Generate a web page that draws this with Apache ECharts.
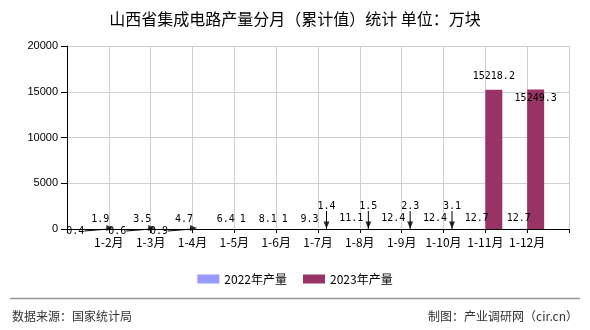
<!DOCTYPE html>
<html><head><meta charset="utf-8">
<script src="https://cdn.jsdelivr.net/npm/echarts@6/dist/echarts.min.js"></script>
<style>html,body{margin:0;padding:0;background:#fff}#c{width:590px;height:330px}</style>
</head><body><div id="c"></div>
<script>
// ---- data ----
const categories = ['1-2月','1-3月','1-4月','1-5月','1-6月','1-7月','1-8月','1-9月','1-10月','1-11月','1-12月'];
const values2022 = [1.9, 3.5, 4.7, 6.4, 8.1, 9.3, 11.1, 12.4, 12.4, 12.7, 12.7];
const values2023 = [0.4, 0.6, 0.9, 1, 1, 1.4, 1.5, 2.3, 3.1, 15218.2, 15249.3];
const seriesNames = ['2022年产量', '2023年产量'];
const yMin = 0, yMax = 20000, yStep = 5000;

// ---- label styling (not data) ----
const shift2023 = [[-42,12],[-42,12],[-42,12],null,null,[0,-13],[0,-13],[0,-13],[0,-13],null,null];
const labelOverride2023 = {9: {distance: 8}, 10: {position: 'insideTop', distance: 4}};

const monoFont = 'DejaVu Sans Mono';
const cjk = '"Noto Sans CJK SC", sans-serif';

const axisCats = [''].concat(categories, ['']);
const d2022 = ['-'].concat(values2022, ['-']);
const d2023 = ['-'].concat(values2023.map((v, i) => {
  const item = {value: v, labelLine: {show: !!shift2023[i]}};
  if (labelOverride2023[i]) item.label = labelOverride2023[i];
  return item;
}), ['-']);
// arrowheads for moved labels
const arrowsDown = ['-'].concat(values2023.map((v, i) => (shift2023[i] && shift2023[i][1] < 0) ? v : '-'), ['-']);
const arrowsRight = ['-'].concat(values2023.map((v, i) => (shift2023[i] && shift2023[i][0] < 0) ? v : '-'), ['-']);

const chart = echarts.init(document.getElementById('c'), null, {renderer: 'canvas'});
chart.setOption({
  animation: false,
  backgroundColor: '#fff',
  title: {
    text: '山西省集成电路产量分月（累计值）统计 单位：万块',
    left: 'center', top: 6,
    textStyle: {fontFamily: cjk, fontSize: 16, fontWeight: 'normal', color: '#000'}
  },
  grid: {left: 67, right: 21, top: 46, bottom: 101, containLabel: false},
  legend: {
    data: seriesNames, top: 268, left: 'center',
    itemWidth: 22, itemHeight: 9, itemGap: 16,
    textStyle: {fontFamily: cjk, fontSize: 12, color: '#000'},
    icon: 'rect'
  },
  xAxis: {
    type: 'category', data: axisCats, boundaryGap: false,
    axisLine: {lineStyle: {color: '#000', width: 1}},
    axisTick: {show: true, length: 4, lineStyle: {color: '#000'}},
    axisLabel: {fontFamily: cjk, fontSize: 12, color: '#000', margin: 7, interval: 0},
    splitLine: {show: true, lineStyle: {color: '#d0d0d0', width: 1}}
  },
  yAxis: {
    type: 'value', min: yMin, max: yMax, interval: yStep,
    axisLine: {show: true, lineStyle: {color: '#000', width: 1}},
    axisTick: {show: true, length: 6, lineStyle: {color: '#000'}},
    axisLabel: {fontFamily: 'Liberation Sans', fontSize: 11, color: '#000', margin: 9, formatter: v => String(v)},
    splitLine: {show: true, lineStyle: {color: '#d0d0d0', width: 1}}
  },
  series: [
    {
      name: seriesNames[0], type: 'bar', data: d2022, barWidth: 17, barGap: '0%',
      itemStyle: {color: '#9999ff'},
      label: {show: true, position: 'top', distance: 5, fontFamily: monoFont, fontSize: 10, color: '#000'}
    },
    {
      name: seriesNames[1], type: 'bar', data: d2023, barWidth: 17, barGap: '0%',
      itemStyle: {color: '#993366'},
      label: {show: true, position: 'top', distance: 5, fontFamily: monoFont, fontSize: 10, color: '#000'},
      labelLine: {show: true, lineStyle: {color: '#000', width: 1}},
      labelLayout: function (p) {
        const s = shift2023[p.dataIndex - 1];
        if (!s) return {};
        return {x: p.labelRect.x + s[0], y: p.labelRect.y + s[1], align: 'left', verticalAlign: 'top'};
      }
    },
    {
      type: 'scatter', data: arrowsDown, symbol: 'triangle', symbolSize: [6, 7], symbolRotate: 180,
      symbolOffset: [8.5, -4], itemStyle: {color: '#000'}, silent: true, z: 5
    },
    {
      type: 'scatter', data: arrowsRight, symbol: 'triangle', symbolSize: [6, 7], symbolRotate: -90,
      symbolOffset: [1, -1], itemStyle: {color: '#000'}, silent: true, z: 5
    }
  ],
  graphic: [
    {type: 'line', shape: {x1: 10, y1: 298.5, x2: 580, y2: 298.5}, style: {stroke: '#999', lineWidth: 1.5}},
    {type: 'text', left: 12, top: 310, style: {text: '数据来源：国家统计局', font: '12px "Noto Sans CJK SC"', fill: '#333'}},
    {type: 'text', right: 12, top: 310, style: {text: '制图：产业调研网（cir.cn）', font: '12px "Noto Sans CJK SC"', fill: '#333'}}
  ]
});
</script>
</body></html>
